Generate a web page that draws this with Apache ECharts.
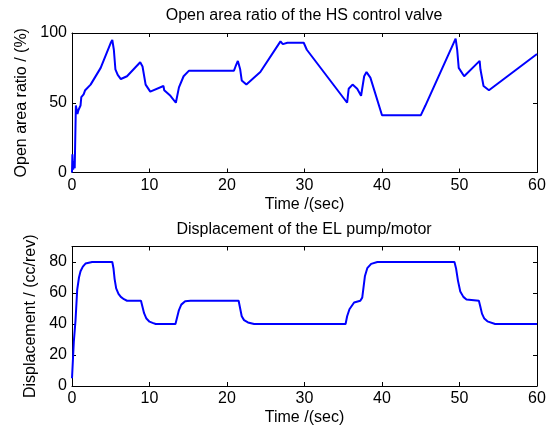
<!DOCTYPE html>
<html>
<head>
<meta charset="utf-8">
<script src="https://cdn.jsdelivr.net/npm/echarts@6/dist/echarts.min.js"></script>
<style>
  html, body { margin: 0; padding: 0; background: #fff; }
  #chart { width: 552px; height: 433px; }
</style>
</head>
<body>
<div id="chart"></div>
<script>
// top panel: open area ratio of the HS control valve
const timeValve = [0, 0.05, 0.15, 0.25, 0.35, 0.5, 0.7, 0.85, 1.1, 1.2, 1.5, 1.7, 2.4, 3.7, 5.0, 5.2, 5.4, 5.6,
  5.9, 6.3, 7.1, 8.8, 9.1, 9.5, 10.1, 11.8, 11.9, 12.7, 13.4, 13.6, 13.8, 14.4, 15.1, 20.9, 21.1, 21.4,
  21.7, 21.9, 22.5, 24.3, 26.9, 27.2, 27.8, 29.9, 30.3, 35.5, 35.7, 36.2, 36.8, 37.3, 37.7, 38.0, 38.5,
  40.0, 45.0, 45.6, 49.5, 49.7, 49.9, 50.6, 52.6, 52.7, 53.1, 53.8, 60]
const openRatio = [0, 13, 2, 8, 3, 48, 42, 45, 48, 54, 56, 59, 63, 75, 93, 95, 88, 74,
  70, 67, 69, 79, 76, 63, 58, 62, 59, 55, 50, 50, 61, 69, 73, 73, 76, 80,
  74, 66, 63, 72, 94, 92, 93, 93, 88, 50, 60, 63, 60, 55, 69, 72, 68,
  41, 41, 48, 96, 88, 75, 69, 80, 74, 62, 59, 85]

// bottom panel: displacement of the EL pump/motor
const timePump = [0, 0.24, 0.45, 0.67, 0.9, 1.1, 1.4, 1.74, 2.6, 5.2, 5.35, 5.5, 5.7, 6.0, 6.3, 6.7, 7.1, 8.9,
  9.1, 9.3, 9.6, 10.0, 10.4, 10.8, 13.35, 13.55, 13.8, 14.1, 14.6, 15.3, 21.5, 21.7, 21.9, 22.2, 22.7, 23.5,
  35.3, 35.5, 35.8, 36.4, 37.2, 37.45, 37.6, 37.8, 38.1, 38.6, 39.4, 49.35, 49.55, 49.8, 50.1, 50.5, 50.9,
  52.5, 52.7, 52.9, 53.2, 53.6, 54.6, 60]
const displacement = [5, 29, 42, 62, 70, 74, 77, 79, 80, 80, 76, 69, 63, 59.5, 57.5, 56, 55, 55,
  51, 47, 43.5, 41.5, 40.7, 40, 40, 44, 49, 52.5, 54.7, 55, 55, 50, 45, 42.5, 41, 40,
  40, 45, 49.5, 53.9, 55, 57, 63, 71, 76, 78.8, 80, 80, 76, 68, 61, 57.5, 55.8,
  55, 51, 46.7, 43.5, 41.7, 40, 40]

const timeTicks = { min: 0, max: 60, splitNumber: 6 }
const valveTicks = { min: 0, max: 100, interval: 50 }
const pumpTicks = { min: 0, max: 90, interval: 20 }

const FONT = 'Liberation Sans, Arial, Helvetica, sans-serif'
const BLACK = '#000'

const makeX = (gridIndex, position, withLabel) => ({
  show: true,
  type: 'value',
  gridIndex,
  position,
  ...timeTicks,
  axisLine: { show: true, onZero: false, lineStyle: { color: BLACK, width: 1 } },
  axisTick: { show: true, inside: true, length: 4, lineStyle: { color: BLACK, width: 1 } },
  axisLabel: { show: withLabel, margin: 5, color: BLACK, fontSize: 16, fontFamily: FONT },
  splitLine: { show: false },
  name: withLabel ? 'Time /(sec)' : '',
  nameLocation: 'middle',
  nameGap: 24,
  nameTextStyle: { color: BLACK, fontSize: 16, fontFamily: FONT },
})

const makeY = (gridIndex, position, ticks, withLabel, name, gap) => ({
  show: true,
  type: 'value',
  gridIndex,
  position,
  ...ticks,
  axisLine: { show: true, onZero: false, lineStyle: { color: BLACK, width: 1 } },
  axisTick: { show: true, inside: true, length: 4, lineStyle: { color: BLACK, width: 1 } },
  axisLabel: { show: withLabel, showMaxLabel: ticks.max % ticks.interval === 0, margin: 5, color: BLACK, fontSize: 16, fontFamily: FONT },
  splitLine: { show: false },
  name: withLabel ? name : '',
  nameLocation: 'middle',
  nameGap: gap,
  nameTextStyle: { color: BLACK, fontSize: 16, fontFamily: FONT },
})

const chart = echarts.init(document.getElementById('chart'), null, { renderer: 'canvas' })

chart.setOption({
  animation: false,
  backgroundColor: '#fff',
  title: [
    {
      text: 'Open area ratio of the HS control valve',
      left: 304, top: 8, padding: 0, textAlign: 'center',
      textStyle: { color: BLACK, fontSize: 16, fontWeight: 'normal', fontFamily: FONT },
    },
    {
      text: 'Displacement of the EL pump/motor',
      left: 304, top: 222, padding: 0, textAlign: 'center',
      textStyle: { color: BLACK, fontSize: 16, fontWeight: 'normal', fontFamily: FONT },
    },
  ],
  grid: [
    { left: 72, right: 15, top: 33, height: 139.5, show: false },
    { left: 72, right: 15, top: 246.5, height: 139.5, show: false },
  ],
  xAxis: [
    makeX(0, 'bottom', true),
    makeX(0, 'top', false),
    makeX(1, 'bottom', true),
    makeX(1, 'top', false),
  ],
  yAxis: [
    makeY(0, 'left', valveTicks, true, 'Open area ratio / (%)', 41),
    makeY(0, 'right', valveTicks, false, '', 0),
    makeY(1, 'left', pumpTicks, true, 'Displacement / (cc/rev)', 31),
    makeY(1, 'right', pumpTicks, false, '', 0),
  ],
  series: [
    {
      type: 'line',
      xAxisIndex: 0,
      yAxisIndex: 0,
      data: timeValve.map((t, i) => [t, openRatio[i]]),
      showSymbol: false,
      lineStyle: { color: '#0000ff', width: 2 },
    },
    {
      type: 'line',
      xAxisIndex: 2,
      yAxisIndex: 2,
      data: timePump.map((t, i) => [t, displacement[i]]),
      showSymbol: false,
      lineStyle: { color: '#0000ff', width: 2 },
    },
    // empty series so the top/right frame axes are drawn
    { type: 'line', xAxisIndex: 1, yAxisIndex: 1, data: [], silent: true },
    { type: 'line', xAxisIndex: 3, yAxisIndex: 3, data: [], silent: true },
  ],
})
</script>
</body>
</html>
